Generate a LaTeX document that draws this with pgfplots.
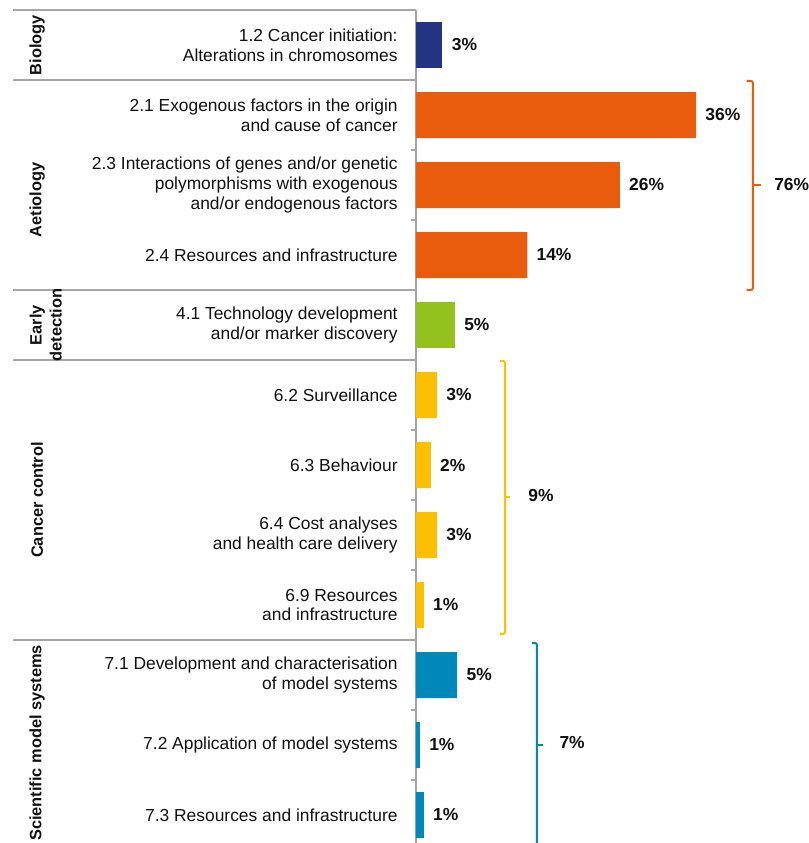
\documentclass[border=0pt]{standalone}
\usepackage{pgfplots}
\pgfplotsset{compat=1.18}
\usepackage{fontspec}
\setmainfont{Liberation Sans}

\definecolor{biol}{HTML}{233482}
\definecolor{aet}{HTML}{E95C0E}
\definecolor{early}{HTML}{95C11F}
\definecolor{ctrl}{HTML}{FCC000}
\definecolor{sci}{HTML}{0088BB}
\definecolor{sepgray}{HTML}{A6A6A6}
\definecolor{txt}{HTML}{111111}

\newcommand{\lab}{\fontsize{8.7}{10}\selectfont}
\newcommand{\grp}{\bfseries\fontsize{8.2}{10}\selectfont}

\begin{document}
\begin{tikzpicture}
\begin{axis}[
    x=3.89pt, y=35pt, y dir=reverse,
    xmin=0, xmax=50.4, ymin=-0.5, ymax=11.4,
    axis x line=none,
    axis y line*=left,
    axis line style={-, draw=sepgray, line width=0.75pt},
    ytick={0,...,11},
    yticklabels={
        {1.2 Cancer initiation:\\Alterations in chromosomes},
        {2.1 Exogenous factors in the origin\\and cause of cancer},
        {2.3 Interactions of genes and/or genetic\\polymorphisms with exogenous\\and/or endogenous factors},
        {2.4 Resources and infrastructure},
        {4.1 Technology development\\and/or marker discovery},
        {6.2 Surveillance},
        {6.3 Behaviour},
        {6.4 Cost analyses\\and health care delivery},
        {6.9 Resources\\and infrastructure},
        {7.1 Development and characterisation\\of model systems},
        {7.2 Application of model systems},
        {7.3 Resources and infrastructure}},
    major tick length=0pt,
    ytick style={draw=none},
    yticklabel style={align=right, font=\lab, inner sep=0pt, xshift=-9pt, text=txt},
    clip=false,
    bar width=23pt,
    point meta=explicit symbolic,
    nodes near coords={\pgfplotspointmeta\%},
    nodes near coords style={font=\bfseries\lab, inner sep=0pt, xshift=4.5pt, anchor=west, text=txt},
]
% bars, one series per research group
\addplot[xbar, bar shift=0pt, fill=biol, draw=none] coordinates {(3.4,0) [3]};
\addplot[xbar, bar shift=0pt, fill=aet, draw=none] coordinates {
    (36,1) [36]
    (26.2,2) [26]
    (14.3,3) [14]
};
\addplot[xbar, bar shift=0pt, fill=early, draw=none] coordinates {(5,4) [5]};
\addplot[xbar, bar shift=0pt, fill=ctrl, draw=none] coordinates {
    (2.7,5) [3]
    (1.9,6) [2]
    (2.7,7) [3]
    (1.0,8) [1]
};
\addplot[xbar, bar shift=0pt, fill=sci, draw=none] coordinates {
    (5.3,9) [5]
    (0.5,10) [1]
    (1.0,11) [1]
};

% separators
\pgfplotsinvokeforeach{-0.5,0.5,3.5,4.5,8.5}{
    \draw[sepgray, line width=0.75pt] (axis cs:-51.8,#1) -- (axis cs:0,#1);
}
\pgfplotsinvokeforeach{1.5,2.5,5.5,6.5,7.5,9.5,10.5}{
    \draw[sepgray, line width=0.75pt] (axis cs:-0.6,#1) -- (axis cs:0,#1);
}

% group names
\node[rotate=90, font=\grp, text=txt] at (axis cs:-48.7,0) {Biology};
\node[rotate=90, font=\grp, text=txt] at (axis cs:-48.7,2.21) {Aetiology};
\node[rotate=90, font=\grp, text=txt, align=center] at (axis cs:-47.6,4) {Early\\detection};
\node[rotate=90, font=\grp, text=txt] at (axis cs:-48.7,6.5) {Cancer control};
\node[rotate=90, font=\grp, text=txt] at (axis cs:-48.7,9.97) {Scientific model systems};

% brackets with group totals
\draw[aet, line width=1pt, rounded corners=1pt] (axis cs:42.5,0.514) -- (axis cs:43.3,0.514) -- (axis cs:43.3,3.5) -- (axis cs:42.5,3.5);
\draw[aet, line width=1pt] (axis cs:43.3,2.0) -- (axis cs:44.3,2.0);
\node[anchor=west, inner sep=0pt, font=\bfseries\lab, text=txt] at (axis cs:46.0,2.0) {76\%};

\draw[ctrl, line width=1pt, rounded corners=1pt] (axis cs:10.8,4.514) -- (axis cs:11.44,4.514) -- (axis cs:11.44,8.414) -- (axis cs:10.8,8.414);
\draw[ctrl, line width=1pt] (axis cs:11.44,6.457) -- (axis cs:12.1,6.457);
\node[anchor=west, inner sep=0pt, font=\bfseries\lab, text=txt] at (axis cs:14.4,6.43) {9\%};

\draw[sci, line width=1pt, rounded corners=1pt] (axis cs:14.9,8.543) -- (axis cs:15.55,8.543) -- (axis cs:15.55,11.6);
\draw[sci, line width=1pt] (axis cs:15.55,10.0) -- (axis cs:16.3,10.0);
\node[anchor=west, inner sep=0pt, font=\bfseries\lab, text=txt] at (axis cs:18.4,9.97) {7\%};

\coordinate (bbtl) at (axis cs:-53.47,-0.643);
\coordinate (bbbr) at (axis cs:50.39,11.4);
\end{axis}
\pgfresetboundingbox
\path[use as bounding box] (bbtl) rectangle (bbbr);
\end{tikzpicture}
\end{document}
